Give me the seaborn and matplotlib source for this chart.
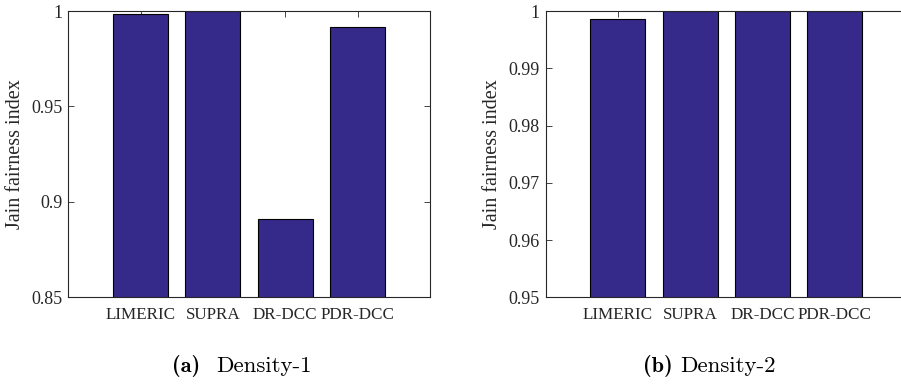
import matplotlib
matplotlib.use("Agg")
import matplotlib.pyplot as plt
from matplotlib.ticker import FuncFormatter
import pandas as pd
import seaborn as sns

# Schemes compared
schemes = ["LIMERIC", "SUPRA", "DR-DCC", "PDR-DCC"]

# Jain fairness index per scheme
density1_jain = [0.9986, 1.0, 0.891, 0.9915]
density2_jain = [0.9986, 1.0, 1.0, 1.0]

# Axis ranges and ticks
density1_ylim = (0.85, 1.0)
density1_yticks = [0.85, 0.90, 0.95, 1.00]
density2_ylim = (0.95, 1.0)
density2_yticks = [0.95, 0.96, 0.97, 0.98, 0.99, 1.00]

panel_tags = ["(a)", "(b)"]
panel_names = ["Density-1", "Density-2"]

sns.set_theme(style="white")
plt.rcParams["font.family"] = ["Liberation Serif", "DejaVu Serif"]

BAR_COLOR = "#35298A"
AX_COLOR = "#262626"

W, H = 901, 387
fig = plt.figure(figsize=(W / 100, H / 100), dpi=100)
fig.patch.set_facecolor("white")

ax_w = 361.7 / W
ax_h = 286.3 / H
ax_b = (H - 297.3) / H
axes = [
    fig.add_axes([68.3 / W, ax_b, ax_w, ax_h]),
    fig.add_axes([545.5 / W, ax_b, ax_w, ax_h]),
]

panels = [
    (density1_jain, density1_ylim, density1_yticks),
    (density2_jain, density2_ylim, density2_yticks),
]

for ax, (vals, ylim, yticks) in zip(axes, panels):
    df = pd.DataFrame({"scheme": schemes, "jain": vals})
    sns.barplot(data=df, x="scheme", y="jain", color=BAR_COLOR, saturation=1,
                width=0.76, edgecolor="black", linewidth=0.8, ax=ax)
    ax.set_xlim(-1, len(schemes))
    ax.set_ylim(*ylim)
    ax.set_yticks(yticks)
    ax.yaxis.set_major_formatter(FuncFormatter(lambda v, p: f"{v:g}"))
    ax.set_xlabel("")
    ax.set_ylabel("Jain fairness index", fontsize=14.5, color=AX_COLOR)
    ax.yaxis.set_label_coords(-0.12, 0.502)
    for sp in ax.spines.values():
        sp.set_visible(True)
        sp.set_color(AX_COLOR)
        sp.set_linewidth(0.8)
    ax.tick_params(axis="both", which="major", direction="in", length=4,
                   width=0.6, color=AX_COLOR, labelcolor=AX_COLOR)
    ax.tick_params(axis="x", top=True, bottom=True, pad=7, labelsize=12.3)
    ax.tick_params(axis="y", left=True, right=True, pad=4, labelsize=13)
    ax.set_facecolor("white")

# Sub-figure captions
caption_y = (H - 372) / H
tag_left = [171.7 / W, 642.7 / W]
name_right = [311.7 / W, 776.0 / W]
for tag, name, xl, xr in zip(panel_tags, panel_names, tag_left, name_right):
    fig.text(xl, caption_y, tag, fontfamily="cmb10", fontsize=16,
             ha="left", va="baseline", color="black")
    fig.text(xr, caption_y, name, fontfamily="cmr10", fontsize=16.5,
             ha="right", va="baseline", color="black")

fig.savefig("out.png", dpi=100, facecolor="white")
